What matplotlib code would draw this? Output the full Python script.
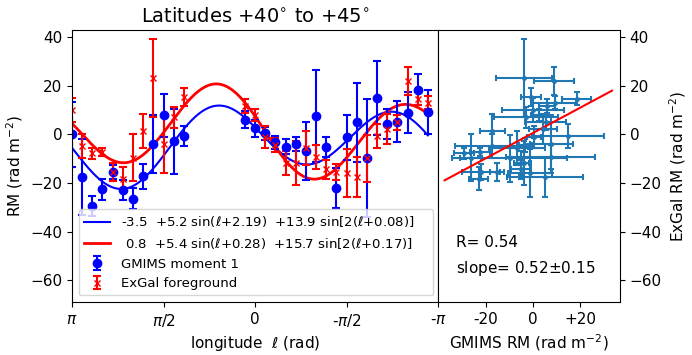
import numpy as np
import matplotlib
matplotlib.use("Agg")
import matplotlib.pyplot as plt

# longitude bins (deg), 10 deg steps from 180 down to -170
lon_deg = [180, 170, 160, 150, 140, 130, 120, 110, 100, 90, 80, 70,
           60, 50, 40, 30, 20, 10, 0, -10, -20, -30, -40, -50,
           -60, -70, -80, -90, -100, -110, -120, -130, -140, -150, -160, -170]

nan = np.nan
gmims_rm = [0.0, -17.5, -29.4, -22.6, -15.4, -23.0, -26.5, -17.2, -3.9, 7.8, -2.9, -0.8,
            nan, nan, nan, nan, nan, 6.0, 2.6, 0.4, -3.3, -5.0, -4.0, -6.8,
            7.5, -5.1, -22.0, -1.2, 5.0, -9.9, 15.0, 4.3, 5.3, 8.9, 18.5, 9.2]
gmims_err = [13.3, 15.5, 4.2, 4.3, 3.0, 4.1, 4.4, 5.2, 12.0, 9.0, 13.5, 4.1,
             nan, nan, nan, nan, nan, 3.5, 3.5, 2.8, 2.8, 3.1, 3.0, 12.0,
             19.0, 4.2, 8.1, 9.2, 16.2, 24.3, 15.3, 6.0, 8.5, 8.5, 6.3, 9.0]
exgal_rm = [9.9, -4.7, -7.8, -7.1, -15.4, -18.2, -9.6, 1.5, 23.3, -4.0, 7.0, 15.4,
            nan, nan, nan, nan, nan, 11.7, 8.0, -1.1, -4.3, -11.8, -11.7, -5.4,
            -9.3, -14.4, -15.6, -15.8, -17.6, -9.9, -0.6, 2.2, 5.0, 21.9, 14.7, 13.0]
exgal_err = [4.9, 4.9, 2.4, 1.6, 3.8, 4.8, 9.7, 7.0, 16.0, 11.8, 4.4, 3.6,
             nan, nan, nan, nan, nan, 2.8, 2.4, 4.5, 3.0, 4.8, 9.0, 7.0,
             4.9, 3.8, 3.3, 10.0, 8.2, 9.7, 4.9, 6.2, 3.0, 5.7, 2.6, 2.7]

# fit coefficients: a0 + a1 sin(l+p1) + a2 sin[2(l+p2)]
fit_gmims = (-3.5, 5.2, 2.19, 13.9, 0.08)
fit_exgal = (0.8, 5.4, 0.28, 15.7, 0.17)

# correlation panel
corr_r = 0.54
fit_slope = 0.52
fit_slope_err = 0.15
fit_intercept = 0.6
fit_xrange = [-37.5, 33.5]


def model(l, c):
    return c[0] + c[1] * np.sin(l + c[2]) + c[3] * np.sin(2 * (l + c[4]))


lon = np.radians(lon_deg)
gm = np.array(gmims_rm)
gme = np.array(gmims_err)
ex = np.array(exgal_rm)
exe = np.array(exgal_err)

plt.rcParams['font.size'] = 11
fig = plt.figure(figsize=(6.92, 3.55), dpi=100)
ax = fig.add_axes([72 / 692, 53 / 355, 366 / 692, 272 / 355])
ax2 = fig.add_axes([438 / 692, 53 / 355, 182 / 692, 272 / 355])

lf = np.linspace(lon[0], lon[-1], 400)
ax.plot(lf, model(lf, fit_gmims), color='blue', lw=1.5,
        label='-3.5  +5.2 sin($\\ell$+2.19)  +13.9 sin[2($\\ell$+0.08)]    ')
ax.plot(lf, model(lf, fit_exgal), color='red', lw=2,
        label=' 0.8  +5.4 sin($\\ell$+0.28)  +15.7 sin[2($\\ell$+0.17)]    ')
ax.errorbar(lon, gm, yerr=gme, fmt='o', color='blue', ms=6, capsize=3,
            elinewidth=1.5, capthick=1.5, label='GMIMS moment 1')
ax.errorbar(lon, ex, yerr=exe, fmt='x', color='red', ms=5, capsize=3,
            elinewidth=1.5, capthick=1.5, label='ExGal foreground')

ax.set_xlim(np.pi, -np.pi)
ax.set_ylim(-69, 43)
ax.set_xticks([np.pi, np.pi / 2, 0, -np.pi / 2, -np.pi])
ax.set_xticklabels(['$\\pi$', '$\\pi$/2', '0', '-$\\pi$/2', '-$\\pi$'])
ax.set_yticks([-60, -40, -20, 0, 20, 40])
ax.set_xlabel('longitude  $\\ell$ (rad)')
ax.set_ylabel('RM (rad m$^{-2}$)')
ax.set_title('Latitudes +40$^{\\circ}$ to +45$^{\\circ}$', fontsize=14)
ax.legend(loc='lower left', fontsize=9.5)

ok = np.isfinite(gm) & np.isfinite(ex)
ax2.errorbar(gm[ok], ex[ok], xerr=gme[ok], yerr=exe[ok], fmt='.', color='C0',
             ms=5, capsize=2, elinewidth=1.5, capthick=1.5)
xl = np.array(fit_xrange)
ax2.plot(xl, fit_slope * xl + fit_intercept, color='red', lw=1.5)
ax2.set_xlim(-40.3, 36.9)
ax2.set_ylim(-69, 43)
ax2.set_xticks([-20, 0, 20])
ax2.set_xticklabels(['-20', '0', '+20'])
ax2.set_yticks([-60, -40, -20, 0, 20, 40])
ax2.yaxis.tick_right()
ax2.yaxis.set_label_position('right')
ax2.set_xlabel('GMIMS RM (rad m$^{-2}$)')
ax2.set_ylabel('ExGal RM (rad m$^{-2}$)')
ax2.text(0.1, 0.22, 'R= %.2f' % corr_r, transform=ax2.transAxes, va='center')
ax2.text(0.1, 0.125, 'slope= %.2f$\\pm$%.2f' % (fit_slope, fit_slope_err),
         transform=ax2.transAxes, va='center')

fig.savefig('out.png', dpi=100)
